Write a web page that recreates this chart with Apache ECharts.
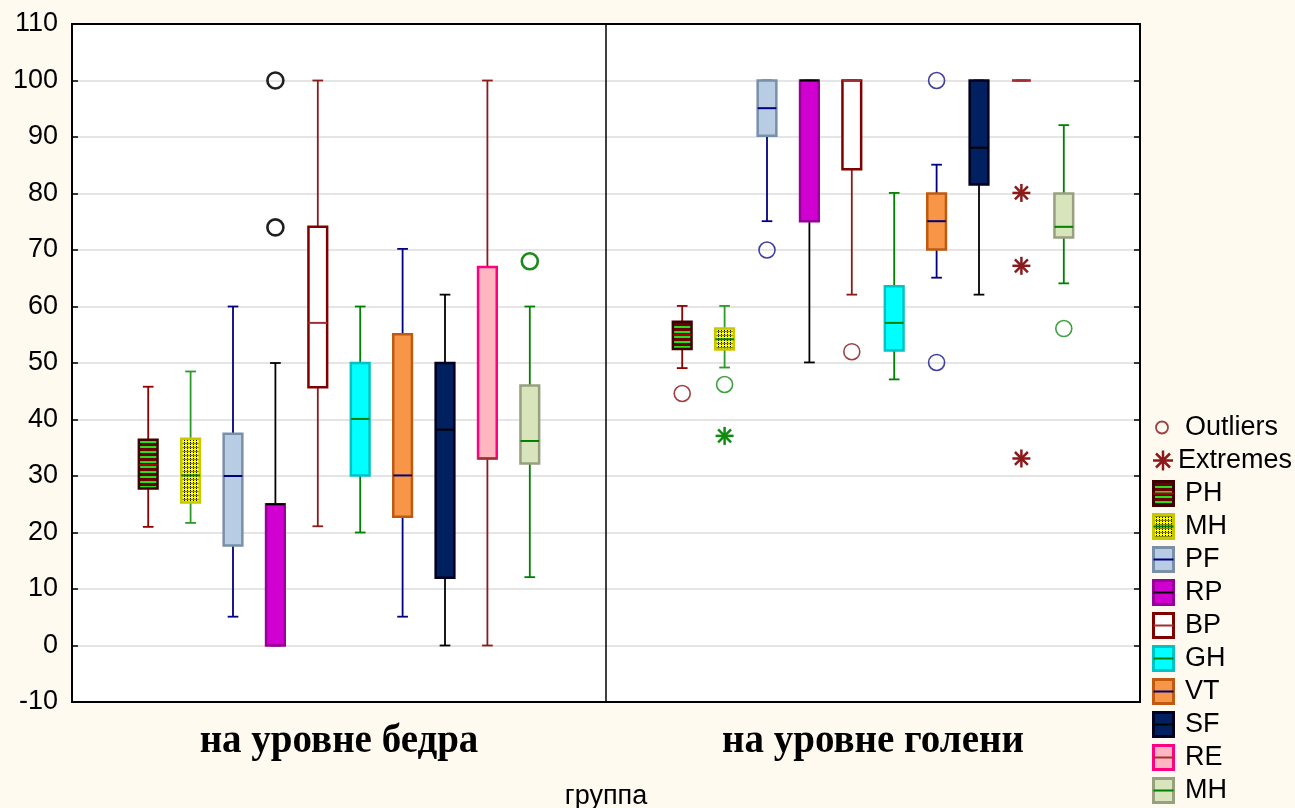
<!DOCTYPE html>
<html><head><meta charset="utf-8">
<script src="https://cdn.jsdelivr.net/npm/echarts/dist/echarts.min.js"></script>
<style>html,body{margin:0;padding:0;background:#fffaf0}#c{width:1295px;height:808px}</style>
</head><body><div id="c"></div>
<script>
// ---------- DATA ----------
const categories = ['на уровне бедра', 'на уровне голени'];
const seriesNames = ['PH', 'MH', 'PF', 'RP', 'BP', 'GH', 'VT', 'SF', 'RE', 'MH '];
// [min, Q1, median, Q3, max] per series
const thighBoxes = [
  [21, 27.8, 32, 36.4, 45.8],
  [21.7, 25.3, 30.1, 36.6, 48.5],
  [5.1, 17.7, 30, 37.5, 60],
  [0, 0, 25, 25, 50],
  [21.1, 45.7, 57.1, 74.1, 100],
  [20, 30.1, 40.1, 50, 60],
  [5.1, 22.8, 30.1, 55.1, 70.2],
  [0, 12, 38.2, 50, 62.1],
  [0, 33.1, 33.1, 67, 100],
  [12.1, 32.2, 36.2, 46, 60]
];
const shinBoxes = [
  [49.1, 52.5, 55, 57.3, 60.1],
  [49.2, 52.4, 54.2, 56.1, 60.1],
  [75.1, 90.2, 95.1, 100, 100],
  [50.1, 75.1, 100, 100, 100],
  [62.1, 84.3, 100, 100, 100],
  [47.1, 52.2, 57.1, 63.6, 80.1],
  [65.1, 70.1, 75.1, 80, 85.1],
  [62.1, 81.6, 88.1, 100, 100],
  [100, 100, 100, 100, 100],
  [64.1, 72.2, 74.1, 80, 92.1]
];
// [seriesIndex, categoryIndex, value]
const outlierPoints = [
  [3, 0, 100], [3, 0, 74], [9, 0, 68],
  [0, 1, 44.6], [1, 1, 46.2], [2, 1, 70], [4, 1, 52], [6, 1, 100], [6, 1, 50.1], [9, 1, 56.1]
];
const extremePoints = [[1, 1, 37.1], [8, 1, 80.1], [8, 1, 67.2], [8, 1, 33.1]];
const yMin = -10, yMax = 110, yStep = 10;
const xAxisTitle = 'группа';

// ---------- STYLES ----------
function mkPattern(type) {
  const c = document.createElement('canvas');
  const g = c.getContext('2d');
  if (type === 'PH') {
    c.width = 4; c.height = 5;
    g.fillStyle = '#6a0000'; g.fillRect(0, 0, 4, 5);
    g.fillStyle = '#20e020'; g.fillRect(0, 1, 4, 2);
  } else {
    c.width = 3; c.height = 4;
    g.fillStyle = '#ffff00'; g.fillRect(0, 0, 3, 4);
    g.fillStyle = '#000'; g.fillRect(1, 0, 1, 1); g.fillRect(1, 2, 1, 1);
    g.fillStyle = '#8a8a00'; g.fillRect(0, 3, 3, 1);
  }
  return c;
}
const patPH = mkPattern('PH'), patMH = mkPattern('MH');
const styles = [
  { fill: { image: patPH, repeat: 'repeat' }, pat: patPH, border: '#400000', whisker: '#900000', median: '#b00000' },
  { fill: { image: patMH, repeat: 'repeat' }, pat: patMH, border: '#c8c800', whisker: '#2a9a2a', median: '#008000' },
  { fill: '#b8cce4', border: '#7890a8', whisker: '#000080', median: '#000080' },
  { fill: '#d000d0', border: '#990099', whisker: '#000000', median: '#000000' },
  { fill: '#ffffff', border: '#800000', whisker: '#8b1a1a', median: '#a03030' },
  { fill: '#00ffff', border: '#00c4c4', whisker: '#008000', median: '#008000' },
  { fill: '#f79646', border: '#c05a10', whisker: '#000080', median: '#000080' },
  { fill: '#002060', border: '#000020', whisker: '#000000', median: '#000000' },
  { fill: '#ffb6c1', border: '#ff0080', whisker: '#8b1a1a', median: '#a03030' },
  { fill: '#d8e4bc', border: '#98a080', whisker: '#008000', median: '#008000' }
];
const outlierColors = ['#a04040', '#40a040', '#4040a0', '#202020', '#a04040', '#40a040', '#4040a0', '#202020', '#8b1a1a', '#40a040'];
const thighOutlierColors = { 3: '#202020', 9: '#1a8a1a' };
const extremeColors = { 1: '#108a10', 8: '#8b1a1a' };

const SPACING = 0.0794, BOXW = 0.035, CAPW = 0.02;
function xPos(api, cat, idx) {
  const band = api.size([1, 0])[0];
  return { cx: api.coord([cat, 0])[0] + (idx - 4.5) * band * SPACING, band };
}

function boxRender(i) {
  const st = styles[i];
  return function (params, api) {
    const cat = api.value(0);
    const p = xPos(api, cat, i);
    const cx = p.cx, bw = p.band * BOXW, cw = p.band * CAPW;
    const y = k => api.coord([cat, api.value(k)])[1];
    const ymin = y(1), yq1 = y(2), ymed = y(3), yq3 = y(4), ymax = y(5);
    const ws = { stroke: st.whisker, lineWidth: 1.8 };
    return {
      type: 'group',
      children: [
        { type: 'line', shape: { x1: cx, y1: ymax, x2: cx, y2: yq3 }, style: ws },
        { type: 'line', shape: { x1: cx, y1: yq1, x2: cx, y2: ymin }, style: ws },
        { type: 'line', shape: { x1: cx - cw / 2, y1: ymax, x2: cx + cw / 2, y2: ymax }, style: ws },
        { type: 'line', shape: { x1: cx - cw / 2, y1: ymin, x2: cx + cw / 2, y2: ymin }, style: ws },
        { type: 'rect', shape: { x: cx - bw / 2, y: yq3, width: bw, height: yq1 - yq3 },
          style: { fill: st.fill, stroke: st.border, lineWidth: 2.5 } },
        { type: 'line', shape: { x1: cx - bw / 2, y1: ymed, x2: cx + bw / 2, y2: ymed },
          style: { stroke: st.median, lineWidth: 2 } }
      ]
    };
  };
}

function outlierRender(params, api) {
  const cat = api.value(0), s = api.value(2);
  const p = xPos(api, cat, s);
  const cy = api.coord([cat, api.value(1)])[1];
  const thigh = cat === 0;
  const col = thigh ? (thighOutlierColors[s] || outlierColors[s]) : outlierColors[s];
  return { type: 'circle', shape: { cx: p.cx, cy: cy, r: 8 },
    style: { fill: 'none', stroke: col, lineWidth: thigh ? 2.6 : 1.6 } };
}

function extremeRender(params, api) {
  const cat = api.value(0), s = api.value(2);
  const p = xPos(api, cat, s);
  const cy = api.coord([cat, api.value(1)])[1];
  const r = 9, d = r * 0.72, col = extremeColors[s] || '#8b1a1a';
  const st = { stroke: col, lineWidth: 2.5 };
  const x = p.cx;
  return { type: 'group', children: [
    { type: 'line', shape: { x1: x - r, y1: cy, x2: x + r, y2: cy }, style: st },
    { type: 'line', shape: { x1: x, y1: cy - r, x2: x, y2: cy + r }, style: st },
    { type: 'line', shape: { x1: x - d, y1: cy - d, x2: x + d, y2: cy + d }, style: st },
    { type: 'line', shape: { x1: x - d, y1: cy + d, x2: x + d, y2: cy - d }, style: st }
  ] };
}

// ---------- LEGEND ICONS ----------
const IW = 28, IH = 27;
function iconCanvas() { const c = document.createElement('canvas'); c.width = IW; c.height = IH; return c; }
function boxIcon(i) {
  const st = styles[i], c = iconCanvas(), g = c.getContext('2d');
  g.fillStyle = st.pat ? g.createPattern(st.pat, 'repeat') : st.fill;
  g.fillRect(1.5, 1.5, 20, 24);
  g.strokeStyle = st.border; g.lineWidth = 3; g.strokeRect(1.5, 1.5, 20, 24);
  g.strokeStyle = st.median; g.lineWidth = 2;
  g.beginPath(); g.moveTo(1.5, 13.5); g.lineTo(21.5, 13.5); g.stroke();
  return 'image://' + c.toDataURL();
}
function outlierIcon() {
  const c = iconCanvas(), g = c.getContext('2d');
  g.strokeStyle = '#a04040'; g.lineWidth = 1.8;
  g.beginPath(); g.arc(10, 13.5, 6, 0, Math.PI * 2); g.stroke();
  return 'image://' + c.toDataURL();
}
function extremeIcon() {
  const c = iconCanvas(), g = c.getContext('2d');
  g.strokeStyle = '#8b1a1a'; g.lineWidth = 2.5;
  const x = 11, y = 13.5, r = 10, d = 7;
  g.beginPath();
  g.moveTo(x - r, y); g.lineTo(x + r, y);
  g.moveTo(x, y - r); g.lineTo(x, y + r);
  g.moveTo(x - d, y - d); g.lineTo(x + d, y + d);
  g.moveTo(x - d, y + d); g.lineTo(x + d, y - d);
  g.stroke();
  return 'image://' + c.toDataURL();
}

// ---------- CHART ----------
const series = seriesNames.map((n, i) => ({
  name: n, type: 'custom',
  encode: { x: 0, y: [1, 2, 3, 4, 5] },
  renderItem: boxRender(i),
  data: [[0].concat(thighBoxes[i]), [1].concat(shinBoxes[i])],
  silent: true
}));
series.push({
  name: 'Outliers', type: 'custom', encode: { x: 0, y: 1 }, renderItem: outlierRender, silent: true,
  data: outlierPoints.map(p => [p[1], p[2], p[0]])
});
series.push({
  name: 'Extremes', type: 'custom', encode: { x: 0, y: 1 }, renderItem: extremeRender, silent: true,
  data: extremePoints.map(p => [p[1], p[2], p[0]])
});

const legendData = [{ name: 'Outliers', icon: outlierIcon() },
  { name: 'Extremes', icon: extremeIcon(), textStyle: { padding: [0, 0, 0, -7] } }]
  .concat(seriesNames.map((n, i) => ({ name: n, icon: boxIcon(i) })));

const FONT = '"Liberation Sans", Arial, sans-serif';
const chart = echarts.init(document.getElementById('c'), null, { renderer: 'canvas' });
chart.setOption({
  backgroundColor: '#fffaf0',
  animation: false,
  grid: { left: 72, right: 155, top: 24, bottom: 106, show: true, backgroundColor: '#ffffff',
    borderColor: '#000', borderWidth: 1.5, containLabel: false, outerBoundsMode: 'none' },
  legend: {
    data: legendData, orient: 'vertical', left: 1152, top: 414, itemWidth: IW, itemHeight: IH, itemGap: 6,
    selectedMode: false, textStyle: { fontSize: 27, color: '#000', fontFamily: FONT }, padding: 0
  },
  xAxis: [{
    type: 'category', data: categories, position: 'bottom',
    axisLine: { onZero: false, lineStyle: { color: '#000', width: 2 } },
    axisTick: { inside: true, alignWithLabel: true, length: 6, lineStyle: { color: '#000', width: 1.5 } },
    axisLabel: { fontSize: 39, fontWeight: 'bold', fontFamily: '"Liberation Serif", "Times New Roman", serif', color: '#000', margin: 20 },
    splitLine: { show: true, lineStyle: { color: '#000', width: 1.5 } },
    name: xAxisTitle, nameLocation: 'middle', nameGap: 81,
    nameTextStyle: { fontSize: 27, fontFamily: FONT, color: '#000' }
  }, {
    type: 'category', data: categories, position: 'top',
    axisLine: { onZero: false, lineStyle: { color: '#000', width: 2 } },
    axisTick: { inside: true, alignWithLabel: true, length: 6, lineStyle: { color: '#000', width: 1.5 } },
    axisLabel: { show: false }, splitLine: { show: false }
  }],
  yAxis: [{
    type: 'value', min: yMin, max: yMax, interval: yStep, position: 'left',
    axisLine: { show: true, onZero: false, lineStyle: { color: '#000', width: 2 } },
    axisTick: { show: true, inside: true, length: 6, lineStyle: { color: '#000', width: 1.5 } },
    axisLabel: { fontSize: 27, fontFamily: FONT, color: '#000', margin: 14 },
    splitLine: { show: true, lineStyle: { color: '#dcdcdc', width: 1.5 } }
  }, {
    type: 'value', min: yMin, max: yMax, interval: yStep, position: 'right',
    axisLine: { show: true, onZero: false, lineStyle: { color: '#000', width: 2 } },
    axisTick: { show: true, inside: true, length: 6, lineStyle: { color: '#000', width: 1.5 } },
    axisLabel: { show: false }, splitLine: { show: false }
  }],
  series: series
});
</script></body></html>
